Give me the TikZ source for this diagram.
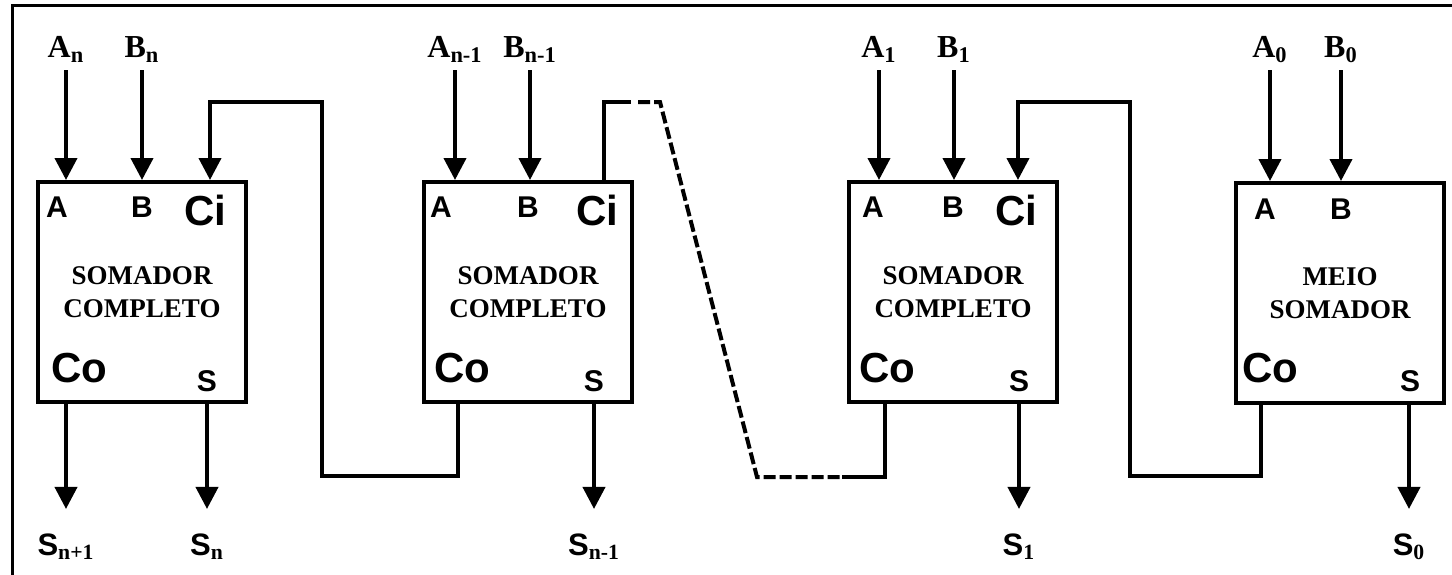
\documentclass[tikz,border=0pt]{standalone}
\usepackage{fontspec}
\setmainfont{Liberation Serif}
\setsansfont{Liberation Sans}
\usetikzlibrary{arrows.meta,calc}

\begin{document}
\begin{tikzpicture}[x=0.5pt,y=-0.5pt,
    adder/.style={rectangle, draw, line width=2pt, minimum width=104pt, minimum height=110pt,
                  font=\fontsize{13.5}{16.5}\selectfont\bfseries, align=center, inner sep=0pt},
    port/.style={font=\sffamily\bfseries\fontsize{15}{15}\selectfont, inner sep=0pt, anchor=base},
    cport/.style={font=\sffamily\bfseries\fontsize{21}{21}\selectfont, inner sep=0pt, anchor=base},
    sig/.style={font=\bfseries\fontsize{16}{16}\selectfont, inner sep=1pt, outer sep=3pt, anchor=base},
    osig/.style={font=\bfseries\fontsize{15.5}{15.5}\selectfont, inner sep=1pt, anchor=base},
    arr/.style={-{Triangle[width=11pt,length=11pt]}, line width=2pt},
    oarr/.style={arr, shorten >=11pt},
    wire/.style={line width=2pt},
    dwire/.style={line width=2pt, dash pattern=on 6pt off 2pt}
  ]
  \useasboundingbox (0,0) rectangle (1452,574);
  \draw[line width=1.5pt] (12,580) -- (12,5) -- (1460,5);

  % the four stages
  \node[adder] (sc1) at (142,292) {SOMADOR\\COMPLETO};
  \node[adder] (sc2) at (528,292) {SOMADOR\\COMPLETO};
  \node[adder] (sc3) at (953,292) {SOMADOR\\COMPLETO};
  \node[adder] (sc4) at (1340,293) {MEIO\\SOMADOR};

  % port names
  \node[port]  (pa1) at (57,217)  {A};
  \node[port]  (pb1) at (142,217) {B};
  \node[cport] (pc1) at (205,225) {Ci};
  \node[cport] (po1) at (79,382)  {Co};
  \node[port]  (ps1) at (207,391) {S};
  \node[port]  (pa2) at (441,217) {A};
  \node[port]  (pb2) at (528,217) {B};
  \node[cport] (pc2) at (597,225) {Ci};
  \node[cport] (po2) at (462,382) {Co};
  \node[port]  (ps2) at (594,391) {S};
  \node[port]  (pa3) at (873,217) {A};
  \node[port]  (pb3) at (953,217) {B};
  \node[cport] (pc3) at (1016,225) {Ci};
  \node[cport] (po3) at (887,382) {Co};
  \node[port]  (ps3) at (1019,391) {S};
  \node[port]  (pa4) at (1265,219) {A};
  \node[port]  (pb4) at (1341,219) {B};
  \node[cport] (po4) at (1270,382) {Co};
  \node[port]  (ps4) at (1410,391) {S};

  % operand inputs
  \node[sig] (an)  at (66,57)   {A\textsubscript{n}};
  \node[sig] (bn)  at (142,57)  {B\textsubscript{n}};
  \node[sig] (an1) at (455,57)  {A\textsubscript{n-1}};
  \node[sig] (bn1) at (530,57)  {B\textsubscript{n-1}};
  \node[sig] (a1)  at (879,57)  {A\textsubscript{1}};
  \node[sig] (b1)  at (954,57)  {B\textsubscript{1}};
  \node[sig] (a0)  at (1270,57) {A\textsubscript{0}};
  \node[sig] (b0)  at (1341,57) {B\textsubscript{0}};
  \draw[arr] (an)  -- (an |- sc1.north);
  \draw[arr] (bn)  -- (bn |- sc1.north);
  \draw[arr] (an1) -- (an1 |- sc2.north);
  \draw[arr] (bn1) -- (bn1 |- sc2.north);
  \draw[arr] (a1)  -- (a1 |- sc3.north);
  \draw[arr] (b1)  -- (b1 |- sc3.north);
  \draw[arr] (a0)  -- (a0 |- sc4.north);
  \draw[arr] (b0)  -- (b0 |- sc4.north);

  % sum outputs
  \node[osig] (sn2) at (66,555)   {\textsf{S}\textsubscript{n+1}};
  \node[osig] (sn)  at (207,555)  {\textsf{S}\textsubscript{n}};
  \node[osig] (sn1) at (594,555)  {\textsf{S}\textsubscript{n-1}};
  \node[osig] (s1)  at (1019,555) {\textsf{S}\textsubscript{1}};
  \node[osig] (s0)  at (1409,555) {\textsf{S}\textsubscript{0}};
  \draw[oarr] (sn2 |- sc1.south) -- (sn2);
  \draw[oarr] (sn |- sc1.south)  -- (sn);
  \draw[oarr] (sn1 |- sc2.south) -- (sn1);
  \draw[oarr] (s1 |- sc3.south)  -- (s1);
  \draw[oarr] (s0 |- sc4.south)  -- (s0);

  % carry chain
  \coordinate (ci1) at ($(sc1.north west)+(174,0)$);
  \coordinate (co2) at ($(sc2.south west)+(36,0)$);
  \coordinate (ci2) at ($(sc2.north west)+(182,0)$);
  \coordinate (co3) at ($(sc3.south west)+(38,0)$);
  \coordinate (ci3) at ($(sc3.north west)+(171,0)$);
  \coordinate (co4) at ($(sc4.south west)+(27,0)$);
  \coordinate (k1a) at (322,102);
  \coordinate (k1b) at (322,476);
  \coordinate (k3a) at (1130,102);
  \coordinate (k3b) at (1130,476);
  \coordinate (d1) at (631,102);
  \coordinate (d2) at (638,102);
  \coordinate (d3) at (660,102);
  \coordinate (d4) at (757,477);
  \coordinate (d5) at (842,477);
  \draw[arr] (co2) |- (k1b) -- (k1a) -| (ci1);
  \draw[wire] (ci2) |- (d1);
  \draw[dwire] (d2) -- (d3) -- (d4) -- (d5);
  \draw[wire] (d5) -| (co3);
  \draw[arr] (co4) |- (k3b) -- (k3a) -| (ci3);
\end{tikzpicture}
\end{document}
